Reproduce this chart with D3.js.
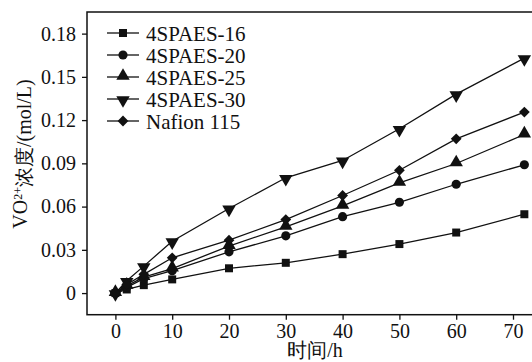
<!DOCTYPE html>
<html>
<head>
<meta charset="utf-8">
<script src="https://cdn.jsdelivr.net/npm/d3@7"></script>
<style>
  html, body { margin: 0; padding: 0; background: #fff; }
  svg { display: block; }
  text { font-family: "Liberation Serif", Tinos, "Times New Roman", serif; }
</style>
</head>
<body>
<div id="chart"></div>
<script>
const hours = [0, 2, 5, 10, 20, 30, 40, 50, 60, 72];
const seriesNames = ["4SPAES-16", "4SPAES-20", "4SPAES-25", "4SPAES-30", "Nafion 115"];
const spaes16 = [0, 0.0025, 0.0055, 0.0095, 0.0172, 0.021, 0.027, 0.034, 0.042, 0.0547];
const spaes20 = [0, 0.004, 0.010, 0.0155, 0.0286, 0.0397, 0.053, 0.063, 0.0755, 0.089];
const spaes25 = [0, 0.005, 0.011, 0.017, 0.0326, 0.046, 0.0605, 0.0764, 0.0899, 0.110];
const spaes30 = [0, 0.0085, 0.0187, 0.036, 0.0587, 0.080, 0.092, 0.114, 0.138, 0.163];
const nafion = [0, 0.006, 0.013, 0.0245, 0.0367, 0.051, 0.0677, 0.0852, 0.107, 0.1256];
const xTicks = [0, 10, 20, 30, 40, 50, 60, 70];
const yTicks = [0, 0.03, 0.06, 0.09, 0.12, 0.15, 0.18];
const yTickLabels = ["0", "0.03", "0.06", "0.09", "0.12", "0.15", "0.18"];

const allValues = [spaes16, spaes20, spaes25, spaes30, nafion];
const shapes = ["square", "circle", "up", "down", "diamond"];

const width = 532, height = 362;
const margin = { left: 87, top: 12 };
const plotRight = 541.4, plotBottom = 314.7;
const serif = '"Liberation Serif", Tinos, "Times New Roman", serif';

const svg = d3.select("#chart").append("svg")
  .attr("width", width)
  .attr("height", height)
  .attr("font-family", serif);

const x = d3.scaleLinear().domain([-5, 75]).range([margin.left, plotRight]);
const y = d3.scaleLinear().domain([-0.015, 0.195]).range([plotBottom, margin.top]);

// markers
function marker(sel, kind) {
  const p = sel.append("path");
  if (kind === "square") p.attr("d", d3.symbol(d3.symbolSquare, 64)());
  else if (kind === "circle") p.attr("d", d3.symbol(d3.symbolCircle, 66)());
  else if (kind === "up") p.attr("d", d3.symbol(d3.symbolTriangle, 78)()).attr("transform", "translate(0,-1)");
  else if (kind === "down") p.attr("d", d3.symbol(d3.symbolTriangle, 78)()).attr("transform", "translate(0,1) rotate(180)");
  else p.attr("d", d3.symbol(d3.symbolSquare, 58)()).attr("transform", "rotate(45)");
}

// frame
svg.append("rect")
  .attr("x", margin.left).attr("y", margin.top)
  .attr("width", plotRight - margin.left).attr("height", plotBottom - margin.top)
  .attr("fill", "none").attr("stroke", "#111").attr("stroke-width", 1.5);

// axes
const xAxis = svg.append("g")
  .attr("transform", `translate(0,${plotBottom})`)
  .call(d3.axisBottom(x).tickValues(xTicks).tickSize(5).tickPadding(4).tickFormat(d3.format("d")));
const yAxis = svg.append("g")
  .attr("transform", `translate(${margin.left},0)`)
  .call(d3.axisLeft(y).tickValues(yTicks).tickSize(5).tickPadding(6)
    .tickFormat((d, i) => yTickLabels[i]));

[xAxis, yAxis].forEach(a => {
  a.attr("font-family", serif).attr("font-size", 20);
  a.select(".domain").remove();
  a.selectAll("line").attr("stroke", "#111").attr("stroke-width", 1.3);
  a.selectAll("text").attr("fill", "#111");
});

// lines
const line = d3.line().x((d, i) => x(hours[i])).y(d => y(d));
const series = svg.append("g");
allValues.forEach((vals, k) => {
  series.append("path")
    .datum(vals)
    .attr("d", line)
    .attr("fill", "none")
    .attr("stroke", "#111")
    .attr("stroke-width", 1.3);
  vals.forEach((v, i) => {
    const g = series.append("g")
      .attr("transform", `translate(${x(hours[i])},${y(v)})`)
      .attr("fill", "#111");
    marker(g, shapes[k]);
  });
});

// legend
const legend = svg.append("g");
seriesNames.forEach((name, k) => {
  const cy = 33 + k * 22;
  legend.append("line")
    .attr("x1", 107).attr("x2", 139).attr("y1", cy).attr("y2", cy)
    .attr("stroke", "#111").attr("stroke-width", 1.3);
  const g = legend.append("g")
    .attr("transform", `translate(123,${cy})`).attr("fill", "#111");
  marker(g, shapes[k]);
  legend.append("text")
    .attr("x", 146).attr("y", cy).attr("dy", "0.4em")
    .attr("fill", "#111")
    .attr("font-size", 21)
    .text(name);
});

// axis titles
svg.append("text")
  .attr("x", 315).attr("y", 357)
  .attr("text-anchor", "middle")
  .attr("fill", "#111")
  .attr("font-size", 20)
  .text("时间/h");

const yt = svg.append("text")
  .attr("transform", "translate(27,154) rotate(-90)")
  .attr("text-anchor", "middle")
  .attr("fill", "#111")
  .attr("font-size", 20);
yt.append("tspan").text("VO");
yt.append("tspan").attr("dy", "-0.45em").attr("font-size", 12).text("2+");
yt.append("tspan").attr("dy", "0.45em").text("浓度/(mol/L)");
</script>
</body>
</html>
